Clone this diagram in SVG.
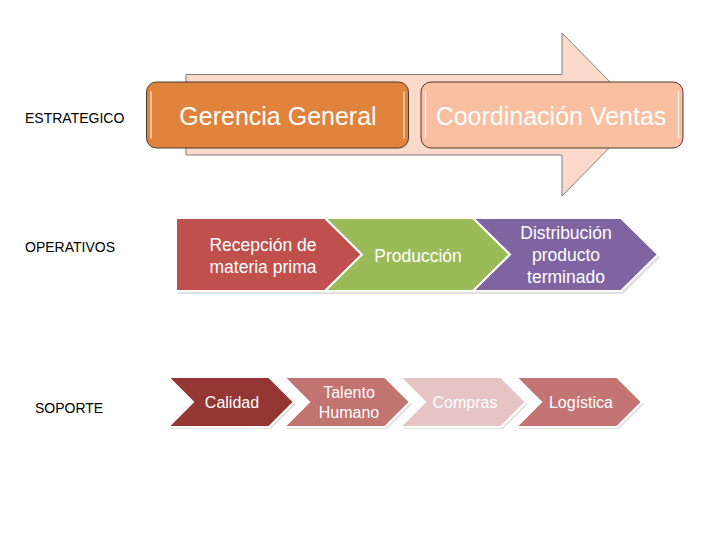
<svg xmlns="http://www.w3.org/2000/svg" width="720" height="540" viewBox="0 0 720 540">
<defs>
<style>
.lbl{font-family:"Liberation Sans",Arial,sans-serif;font-size:14px;fill:#000}
.big{font-family:"Liberation Sans",Arial,sans-serif;font-size:25px;fill:#fff;text-anchor:middle}
.mid{font-family:"Liberation Sans",Arial,sans-serif;font-size:17.5px;fill:#fff;text-anchor:middle}
.sm{font-family:"Liberation Sans",Arial,sans-serif;font-size:16px;fill:#fff;text-anchor:middle}
.box{stroke:#4b3a2e;stroke-width:1}
.hl{stroke:#fff;stroke-opacity:0.7;stroke-width:1.5;fill:none;stroke-linecap:round}
.chev{stroke:#fff;stroke-width:2;stroke-linejoin:miter}
.shadow{fill:#000;opacity:0.12}
</style>
</defs>
<rect width="720" height="540" fill="#fff"/>

<g id="level-labels">
<text class="lbl" x="25" y="123">ESTRATEGICO</text>
<text class="lbl" x="25" y="252">OPERATIVOS</text>
<text class="lbl" x="35" y="413">SOPORTE</text>
</g>

<g id="connectors">
<path d="M186,74.5 L562,74.5 L562,33 L642,114.5 L562,196 L562,155 L186,155 Z" fill="#FCDACB" stroke="#7f7f7f" stroke-width="1"/>
</g>

<g id="gerencia-general">
<rect class="box" x="146.5" y="82" width="262" height="66" rx="10" fill="#E0843D"/>
<line class="hl" x1="151" y1="92" x2="151" y2="138"/>
<line class="hl" x1="404" y1="92" x2="404" y2="138"/>
<text class="big" x="278" y="125">Gerencia General</text>
</g>

<g id="coordinacion-ventas">
<rect class="box" x="421" y="82" width="262" height="66" rx="10" fill="#F8BFA1"/>
<line class="hl" x1="425.5" y1="92" x2="425.5" y2="138"/>
<line class="hl" x1="678.5" y1="92" x2="678.5" y2="138"/>
<text class="big" x="551" y="125">Coordinación Ventas</text>
</g>

<g id="recepcion">
<path class="shadow" d="M178,221 L327,221 L364,257.5 L327,294 L178,294 Z"/>
<path class="chev" d="M176,218 L325,218 L362,254.5 L325,291 L176,291 Z" fill="#C0504D"/>
<text class="mid" x="263" y="251">Recepción de</text>
<text class="mid" x="263" y="273">materia prima</text>
</g>

<g id="produccion">
<path class="shadow" d="M327,221 L475,221 L512,257.5 L475,294 L327,294 L364,257.5 Z"/>
<path class="chev" d="M325,218 L473,218 L510,254.5 L473,291 L325,291 L362,254.5 Z" fill="#9BBB59"/>
<text class="mid" x="418" y="262">Producción</text>
</g>

<g id="distribucion">
<path class="shadow" d="M475,221 L623,221 L660,257.5 L623,294 L475,294 L512,257.5 Z"/>
<path class="chev" d="M473,218 L621,218 L658,254.5 L621,291 L473,291 L510,254.5 Z" fill="#8064A2"/>
<text class="mid" x="566" y="239">Distribución</text>
<text class="mid" x="566" y="261">producto</text>
<text class="mid" x="566" y="283">terminado</text>
</g>

<g id="calidad">
<path class="shadow" d="M170,379 L271,379 L296,404 L271,429 L170,429 L195,404 Z"/>
<path class="chev" d="M168,377 L269,377 L294,402 L269,427 L168,427 L193,402 Z" fill="#943634"/>
<text class="sm" x="232" y="408">Calidad</text>
</g>

<g id="talento-humano">
<path class="shadow" d="M286,379 L387,379 L412,404 L387,429 L286,429 L311,404 Z"/>
<path class="chev" d="M284,377 L385,377 L410,402 L385,427 L284,427 L309,402 Z" fill="#C27471"/>
<text class="sm" x="349" y="398">Talento</text>
<text class="sm" x="349" y="418">Humano</text>
</g>

<g id="compras">
<path class="shadow" d="M402,379 L503,379 L528,404 L503,429 L402,429 L427,404 Z"/>
<path class="chev" d="M400,377 L501,377 L526,402 L501,427 L400,427 L425,402 Z" fill="#E6C4C3"/>
<text class="sm" x="465" y="408">Compras</text>
</g>

<g id="logistica">
<path class="shadow" d="M518,379 L619,379 L644,404 L619,429 L518,429 L543,404 Z"/>
<path class="chev" d="M516,377 L617,377 L642,402 L617,427 L516,427 L541,402 Z" fill="#C47573"/>
<text class="sm" x="581" y="408">Logística</text>
</g>
</svg>
